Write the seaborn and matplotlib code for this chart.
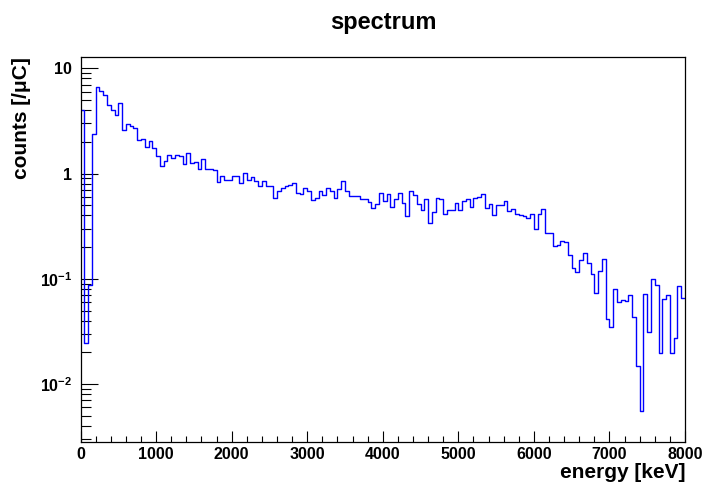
import numpy as np
import pandas as pd
import matplotlib
matplotlib.use("Agg")
import matplotlib.pyplot as plt
import matplotlib.ticker as mticker
import seaborn as sns

# spectrum, 50 keV bins from 0 to 8000 keV, counts per uC
bin_width = 50
e_min, e_max = 0, 8000

counts_0_1000 = [4.05, 0.0246, 0.087, 2.4, 6.65, 6.05, 5.54, 4.45, 4.05, 3.58,
                 4.72, 2.62, 2.96, 2.83, 2.71, 2.07, 2.15, 1.80, 2.06, 1.75]
counts_1000_2000 = [1.48, 1.19, 1.33, 1.51, 1.42, 1.49, 1.46, 1.22, 1.57, 1.27,
                    1.29, 1.10, 1.38, 1.11, 1.10, 1.075, 0.833, 0.943, 0.864, 0.876]
counts_2000_3000 = [0.943, 0.956, 0.821, 1.014, 0.864, 0.929, 0.851, 0.758, 0.851, 0.758,
                    0.758, 0.591, 0.684, 0.736, 0.758, 0.774, 0.815, 0.659, 0.645, 0.736]
counts_3000_4000 = [0.684, 0.558, 0.587, 0.684, 0.622, 0.730, 0.679, 0.587, 0.710, 0.845,
                    0.684, 0.618, 0.618, 0.609, 0.578, 0.570, 0.538, 0.475, 0.519, 0.659]
counts_4000_5000 = [0.550, 0.645, 0.482, 0.578, 0.659, 0.526, 0.393, 0.684, 0.627, 0.511,
                    0.448, 0.578, 0.342, 0.432, 0.587, 0.570, 0.411, 0.448, 0.448, 0.530]
counts_5000_6000 = [0.448, 0.550, 0.570, 0.482, 0.591, 0.600, 0.645, 0.475, 0.511, 0.402,
                    0.507, 0.507, 0.546, 0.442, 0.465, 0.417, 0.408, 0.396, 0.379, 0.417]
counts_6000_7000 = [0.300, 0.417, 0.465, 0.273, 0.273, 0.204, 0.208, 0.228, 0.224, 0.168,
                    0.127, 0.116, 0.150, 0.176, 0.140, 0.110, 0.0741, 0.119, 0.156, 0.0420]
counts_7000_8000 = [0.0350, 0.0797, 0.0604, 0.0636, 0.0613, 0.0699, 0.0435, 0.0148, 0.00557, 0.0714,
                    0.0313, 0.0998, 0.0869, 0.0198, 0.0650, 0.0699, 0.0198, 0.0275, 0.0851, 0.0664]

y_ticks = [0.01, 0.1, 1, 10]
y_tick_labels = ["10$^{-2}$", "10$^{-1}$", "1", "10"]
x_ticks = list(range(0, 8001, 1000))

counts = (counts_0_1000 + counts_1000_2000 + counts_2000_3000 + counts_3000_4000
          + counts_4000_5000 + counts_5000_6000 + counts_6000_7000 + counts_7000_8000)
centers = np.arange(e_min, e_max, bin_width) + bin_width / 2
df = pd.DataFrame({"energy": centers, "counts": counts})

sns.set_style("white")
plt.rcParams["font.family"] = ["Liberation Sans", "DejaVu Sans"]
plt.rcParams["font.weight"] = "bold"
plt.rcParams["text.color"] = "black"
plt.rcParams["xtick.color"] = "black"
plt.rcParams["ytick.color"] = "black"
plt.rcParams["mathtext.fontset"] = "custom"
plt.rcParams["mathtext.rm"] = "Liberation Sans:bold"
plt.rcParams["mathtext.bf"] = "Liberation Sans:bold"
plt.rcParams["mathtext.default"] = "bf"

fig = plt.figure(figsize=(7.03, 4.86), dpi=100)
# frame in pixels: left 80.5, right 685, top 57.5, bottom 441.7
ax = fig.add_axes([80.5 / 703, 1 - 441.7 / 486, 604.5 / 703, 384.2 / 486])

sns.histplot(data=df, x="energy", weights="counts", binwidth=bin_width,
             binrange=(e_min, e_max), element="step", fill=False,
             color="blue", linewidth=1.0, ax=ax)

ax.set_yscale("log")
ax.set_xlim(e_min, e_max)
ax.set_ylim(0.00284, 12.66)
ax.set_xlabel("")
ax.set_ylabel("")

ax.set_xticks(x_ticks)
ax.set_xticklabels([str(t) for t in x_ticks])
ax.xaxis.set_minor_locator(mticker.MultipleLocator(200))
ax.set_yticks(y_ticks)
ax.set_yticklabels(y_tick_labels)
ax.yaxis.set_minor_locator(mticker.LogLocator(base=10, subs=np.arange(2, 10)))
ax.yaxis.set_minor_formatter(mticker.NullFormatter())

ax.tick_params(axis="x", which="major", direction="in", length=8, width=0.8,
               labelsize=11.5, pad=3.5, bottom=True, top=False)
ax.tick_params(axis="x", which="minor", direction="in", length=4, width=0.8,
               bottom=True, top=False)
ax.tick_params(axis="y", which="major", direction="in", length=12.2, width=0.8,
               labelsize=11.5, pad=6, left=True, right=False)
ax.tick_params(axis="y", which="minor", direction="in", length=7, width=0.8,
               left=True, right=False)
for s in ax.spines.values():
    s.set_color("black")
    s.set_linewidth(0.9)

fig.text(383 / 703, 1 - 22 / 486, "spectrum", ha="center", va="center",
         fontsize=17, fontweight="bold")
fig.text(686 / 703, 1 - 472 / 486, "energy [keV]", ha="right", va="center",
         fontsize=15, fontweight="bold")
fig.text(22 / 703, 1 - 57 / 486, "counts [/\u03bcC]", ha="center", va="top",
         rotation=90, fontsize=15, fontweight="bold")

fig.savefig("out.png", dpi=100, facecolor="white")
